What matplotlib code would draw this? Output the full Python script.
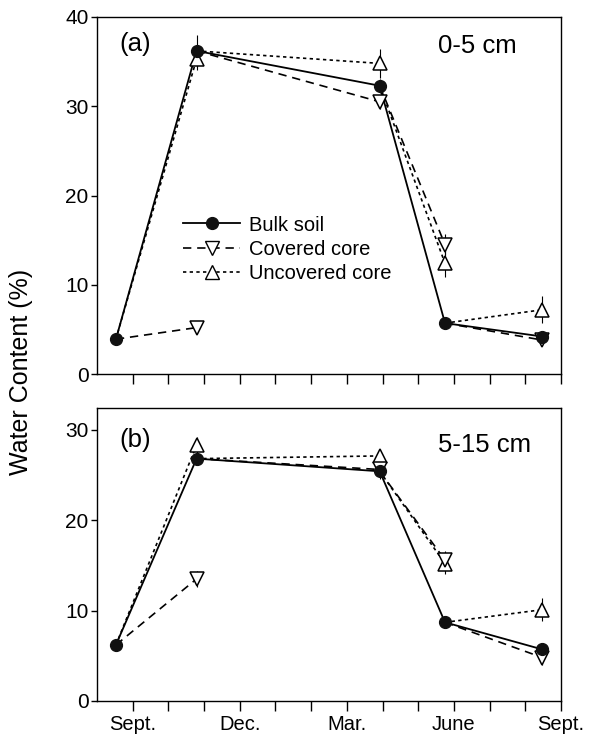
import matplotlib
matplotlib.use("Agg")
import matplotlib.pyplot as plt
from matplotlib.lines import Line2D
import numpy as np

plt.rcParams['font.family'] = ['Liberation Sans', 'DejaVu Sans']

# sampling dates, months after 1 Aug
months = [0.53, 2.79, 7.92, 9.75, 12.48]
month_ticks = list(range(1, 14))
month_labels = ["Sept.", "", "", "Dec.", "", "", "Mar.", "", "", "June", "", "", "Sept."]

# (a) 0-5 cm
bulk_a = [3.9, 36.2, 32.3, 5.7, 4.2]
bulk_a_err = [0.3, 1.8, 0.8, 0.6, 0.5]
cov_a = [np.nan, 5.2, 30.5, 14.5, 3.8]
cov_a_err = [np.nan, 0.3, 0.8, 1.2, 0.6]
unc_a = [np.nan, 35.3, 34.8, 12.4, 7.2]
unc_a_err = [np.nan, 1.2, 1.6, 1.5, 1.5]

# (b) 5-15 cm
bulk_b = [6.2, 26.8, 25.4, 8.7, 5.7]
bulk_b_err = [0.3, 0.6, 0.8, 0.5, 0.5]
cov_b = [np.nan, 13.5, 25.6, 15.6, 4.8]
cov_b_err = [np.nan, 0.9, 0.6, 1.0, 0.8]
unc_b = [np.nan, 28.3, 27.1, 15.2, 10.1]
unc_b_err = [np.nan, 0.9, 0.6, 1.2, 1.3]

dash = (0, (5, 3.5))
dot = (0, (2, 2))


def panel(ax, bulk, bulk_err, cov, cov_err, unc, unc_err):
    # cores are started from the bulk soil of the previous date
    for s, ls in [(unc, dot), (cov, dash)]:
        for i in range(1, len(months)):
            ax.plot([months[i - 1], months[i]], [bulk[i - 1], s[i]],
                    color="black", lw=1.2, ls=ls, zorder=2)
    ax.plot(months, bulk, color="black", lw=1.3, zorder=2)
    for s, e in [(unc, unc_err), (cov, cov_err), (bulk, bulk_err)]:
        ax.errorbar(months, s, yerr=e, fmt="none", ecolor="black",
                    elinewidth=0.8, capsize=0, zorder=3)
    ax.plot(months, unc, ls="none", marker="^", ms=10, mfc="white",
            mec="black", mew=1.1, zorder=4)
    ax.plot(months, cov, ls="none", marker="v", ms=10, mfc="white",
            mec="black", mew=1.1, zorder=4)
    ax.plot(months, bulk, ls="none", marker="o", ms=8.5, mfc="#111111",
            mec="#111111", zorder=5)
    ax.set_xlim(0, 13)
    ax.set_xticks(month_ticks)
    ax.tick_params(axis="x", direction="out", length=7, width=1.0, labelsize=14.5, pad=3)
    ax.tick_params(axis="y", direction="out", length=4, width=1.0, labelsize=15, pad=2)
    for sp in ax.spines.values():
        sp.set_linewidth(1.0)


fig = plt.figure(figsize=(5.92, 7.39), dpi=100)
ax1 = fig.add_axes([97 / 592, 1 - 374 / 739, 464 / 592, 357 / 739])
ax2 = fig.add_axes([97 / 592, 1 - 701 / 739, 464 / 592, 293 / 739])

panel(ax1, bulk_a, bulk_a_err, cov_a, cov_a_err, unc_a, unc_a_err)
ax1.set_ylim(0, 40)
ax1.set_yticks([0, 10, 20, 30, 40])
ax1.set_xticklabels([])
ax1.text(0.048, 0.925, "(a)", transform=ax1.transAxes, fontsize=18.5, va="center")
ax1.text(0.905, 0.92, "0-5 cm", transform=ax1.transAxes, fontsize=18.5, va="center", ha="right")

handles = [
    Line2D([], [], color="black", lw=1.3, marker="o", ms=8.5, mfc="#111111", mec="#111111"),
    Line2D([], [], color="black", lw=1.2, ls=dash, marker="v", ms=10, mfc="white", mec="black"),
    Line2D([], [], color="black", lw=1.2, ls=dot, marker="^", ms=10, mfc="white", mec="black"),
]
ax1.legend(handles, ["Bulk soil", "Covered core", "Uncovered core"],
           loc="center left", bbox_to_anchor=(0.185, 0.35), frameon=False,
           fontsize=14.5, handlelength=2.85, handletextpad=0.45, labelspacing=0.25,
           borderpad=0, borderaxespad=0)

panel(ax2, bulk_b, bulk_b_err, cov_b, cov_b_err, unc_b, unc_b_err)
ax2.set_ylim(0, 32.4)
ax2.set_yticks([0, 10, 20, 30])
ax2.set_xticklabels(month_labels)
ax2.text(0.048, 0.89, "(b)", transform=ax2.transAxes, fontsize=18.5, va="center")
ax2.text(0.935, 0.875, "5-15 cm", transform=ax2.transAxes, fontsize=18.5, va="center", ha="right")

fig.text(21 / 592, 1 - 372 / 739, "Water Content (%)", rotation=90,
         ha="center", va="center", fontsize=18)

fig.savefig("out.png", dpi=100)
